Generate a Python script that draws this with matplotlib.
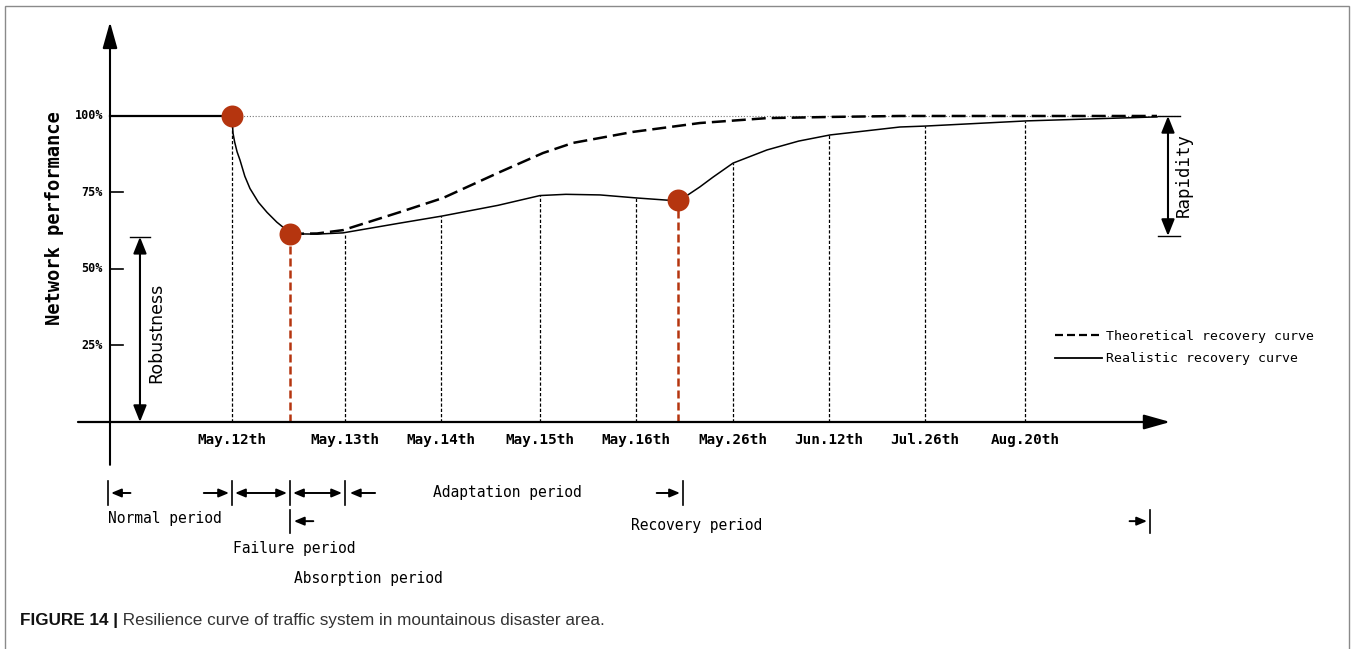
import matplotlib
matplotlib.use("Agg")
import matplotlib.pyplot as plt
from matplotlib.lines import Line2D
from matplotlib.patches import Rectangle

# ---------------- values ----------------
date_labels = ["May.12th", "May.13th", "May.14th", "May.15th", "May.16th",
               "May.26th", "Jun.12th", "Jul.26th", "Aug.20th"]
date_pos = [1.258, 2.423, 3.412, 4.433, 5.423, 6.423, 7.412, 8.402, 9.433]
date_perf = [100, 61.8, 67.3, 74.2, 73.2, 84.6, 93.8, 96.7, 98.4]

# realistic recovery curve (solid)
real_x = [1.258, 1.262, 1.268, 1.285, 1.310, 1.340, 1.390, 1.443, 1.530,
          1.619, 1.720, 1.825, 1.856, 2.134, 2.402, 2.990, 3.423, 4.000,
          4.433, 4.700, 5.052, 5.433, 5.742, 5.856, 5.948, 6.080, 6.216,
          6.423, 6.773, 7.100, 7.423, 8.144, 8.402, 9.454, 10.794]
real_y = [100, 97.5, 94.4, 91.5, 88.3, 85.6, 80.3, 76.3, 71.8,
          68.5, 65.3, 62.6, 61.5, 61.4, 61.8, 65.0, 67.3, 70.8,
          74.0, 74.4, 74.2, 73.2, 72.5, 72.5, 74.0, 76.8, 80.0,
          84.6, 88.9, 91.8, 93.8, 96.4, 96.7, 98.4, 99.7]

# theoretical recovery curve (dashed)
theo_x = [1.856, 2.134, 2.402, 2.990, 3.433, 4.021, 4.464, 4.773, 5.392,
          6.082, 6.773, 7.454, 8.144, 10.794]
theo_y = [61.5, 61.6, 62.7, 68.6, 73.2, 81.7, 87.9, 91.2, 94.8,
          97.7, 99.3, 99.7, 100, 100]

# key points (red dots)
key_x = [1.258, 1.856, 5.856]
key_y = [100, 61.5, 72.5]

ytick_vals = [25, 50, 75]
ytick_labels = ["100%", "75%", "50%", "25%"]
ytick_label_vals = [100, 75, 50, 25]

robustness = 60.5
rapidity_low = 60.8

# period boundaries along the time axis
b_normal0, b_fail0, b_abs0, b_adapt0, b_adapt1, b_rec1 = -0.02, 1.258, 1.856, 2.423, 5.907, 10.722

RED = "#b5350f"
MONO = "DejaVu Sans Mono"
CAPFONT = ["Liberation Sans Narrow", "Liberation Sans", "DejaVu Sans"]

fig = plt.figure(figsize=(13.52, 6.49), dpi=100)
ax = fig.add_axes([0, 0, 1, 1])
ax.set_xlim(-1.134, 12.804)
ax.set_ylim(-74.18, 137.9)
ax.axis("off")

# frame round the figure
fig.patches.append(Rectangle((5 / 1352, -0.05), 1344 / 1352, 1.05 - 6 / 649,
                             transform=fig.transFigure, fill=False,
                             edgecolor="#8a8a8a", lw=1.0))

# axes with arrow heads
ax.annotate("", xy=(0, 130.7), xytext=(0, -14),
            arrowprops=dict(arrowstyle="-|>,head_length=1.6,head_width=0.45",
                            lw=1.5, color="black", shrinkA=0, shrinkB=0))
ax.annotate("", xy=(10.93, 0), xytext=(-0.33, 0),
            arrowprops=dict(arrowstyle="-|>,head_length=1.6,head_width=0.45",
                            lw=1.6, color="black", shrinkA=0, shrinkB=0))

# y ticks and labels
for v in ytick_vals:
    ax.plot([0, 0.134], [v, v], color="black", lw=1.2)
for lab, v in zip(ytick_labels, ytick_label_vals):
    ax.text(-0.072, v, lab, ha="right", va="center", fontsize=8.5,
            fontweight="bold", family=MONO)
ax.text(-0.567, 66.7, "Network performance", rotation=90, ha="center",
        va="center", fontsize=13.5, fontweight="bold", family=MONO)

# x tick labels and dashed guides
for lab, xp, yp in zip(date_labels, date_pos, date_perf):
    ax.plot([xp, xp], [0, yp], color="black", lw=0.9, dashes=(2.6, 1.6))
    ax.text(xp, -5.9, lab, ha="center", va="center", fontsize=10.3,
            fontweight="bold", family=MONO)

# 100 % reference
ax.plot([0, key_x[0]], [100, 100], color="black", lw=1.6)
ax.plot([key_x[0], 11.03], [100, 100], color="#777777", lw=0.8,
        linestyle=(0, (1, 1.6)))

# curves
ax.plot(theo_x, theo_y, color="black", lw=1.8, dashes=(5.6, 2.4))
ax.plot(real_x, real_y, color="black", lw=1.1)

# red markers and guides
for xp, yp in zip(key_x[1:], key_y[1:]):
    ax.plot([xp, xp], [0, yp], color=RED, lw=1.8, dashes=(3.2, 1.6))
ax.scatter(key_x, key_y, s=250, color=RED, zorder=5, linewidths=0)

# robustness
ax.annotate("", xy=(0.309, robustness), xytext=(0.309, 0),
            arrowprops=dict(arrowstyle="<|-|>,head_length=1.0,head_width=0.4",
                            lw=1.5, color="black", shrinkA=0, shrinkB=0))
ax.plot([0.206, 0.412], [robustness, robustness], color="black", lw=1.0)
ax.text(0.474, 29.1, "Robustness", rotation=90, ha="center", va="center",
        fontsize=12.5, family="DejaVu Sans")

# rapidity
ax.annotate("", xy=(10.907, rapidity_low), xytext=(10.907, 100),
            arrowprops=dict(arrowstyle="<|-|>,head_length=1.0,head_width=0.4",
                            lw=1.5, color="black", shrinkA=0, shrinkB=0))
for yv in [100, rapidity_low]:
    ax.plot([10.804, 11.031], [yv, yv], color="black", lw=1.0)
ax.text(11.07, 80.7, "Rapidity", rotation=90, ha="center", va="center",
        fontsize=12.5, family=MONO)

# legend
handles = [Line2D([], [], color="black", lw=1.6, dashes=(3.6, 1.8)),
           Line2D([], [], color="black", lw=1.3)]
ax.legend(handles, ["Theoretical recovery curve", "Realistic recovery curve"],
          loc="upper left", bbox_to_anchor=(9.742, 30.2),
          bbox_transform=ax.transData, frameon=False, borderpad=0,
          borderaxespad=0, handlelength=3.6, handletextpad=0.3,
          labelspacing=0.75, prop=dict(family=MONO, size=9.5))

# ---------------- period annotations ----------------
row1, row2 = -23.2, -32.4
gap, alen = 0.031, 0.2


def bar(x, y):
    ax.plot([x, x], [y - 3.8, y + 3.8], color="black", lw=1.2)


def arr(x0, x1, y, style="-|>"):
    ax.annotate("", xy=(x1, y), xytext=(x0, y),
                arrowprops=dict(arrowstyle=style + ",head_length=0.6,head_width=0.25",
                                lw=1.4, color="black", shrinkA=0, shrinkB=0))


bar(b_normal0, row1)
arr(b_normal0 + gap + alen, b_normal0 + gap, row1)
arr(b_fail0 - gap - 0.26, b_fail0 - gap, row1)
bar(b_fail0, row1)
arr(b_fail0 + gap, b_abs0 - gap, row1, "<|-|>")
bar(b_abs0, row1)
arr(b_abs0 + gap, b_adapt0 - gap, row1, "<|-|>")
bar(b_adapt0, row1)
arr(b_adapt0 + 0.05 + 0.26, b_adapt0 + 0.05, row1)
arr(b_adapt1 - gap - 0.24, b_adapt1 - gap, row1)
bar(b_adapt1, row1)

bar(b_abs0, row2)
arr(b_abs0 + 0.04 + alen, b_abs0 + 0.04, row2)
arr(b_rec1 - gap - 0.18, b_rec1 - gap, row2)
bar(b_rec1, row2)

pkw = dict(family=MONO, fontsize=10.5, va="center")
ax.text(b_normal0, -31.4, "Normal period", ha="left", **pkw)
ax.text(4.10, row1, "Adaptation period", ha="center", **pkw)
ax.text(6.05, -33.7, "Recovery period", ha="center", **pkw)
ax.text(1.90, -41.2, "Failure period", ha="center", **pkw)
ax.text(2.66, -51.0, "Absorption period", ha="center", **pkw)

# caption
cap = fig.text(20 / 1352, 1 - 620 / 649, "FIGURE 14 |", fontsize=12.3,
               fontweight="bold", va="center", ha="left", family=CAPFONT,
               color="#111111")
ax.annotate(" Resilience curve of traffic system in mountainous disaster area.",
            xy=(1, 0.5), xycoords=cap, va="center", ha="left", fontsize=12.3,
            family=CAPFONT, color="#333333")

fig.savefig("out.png", dpi=100)
